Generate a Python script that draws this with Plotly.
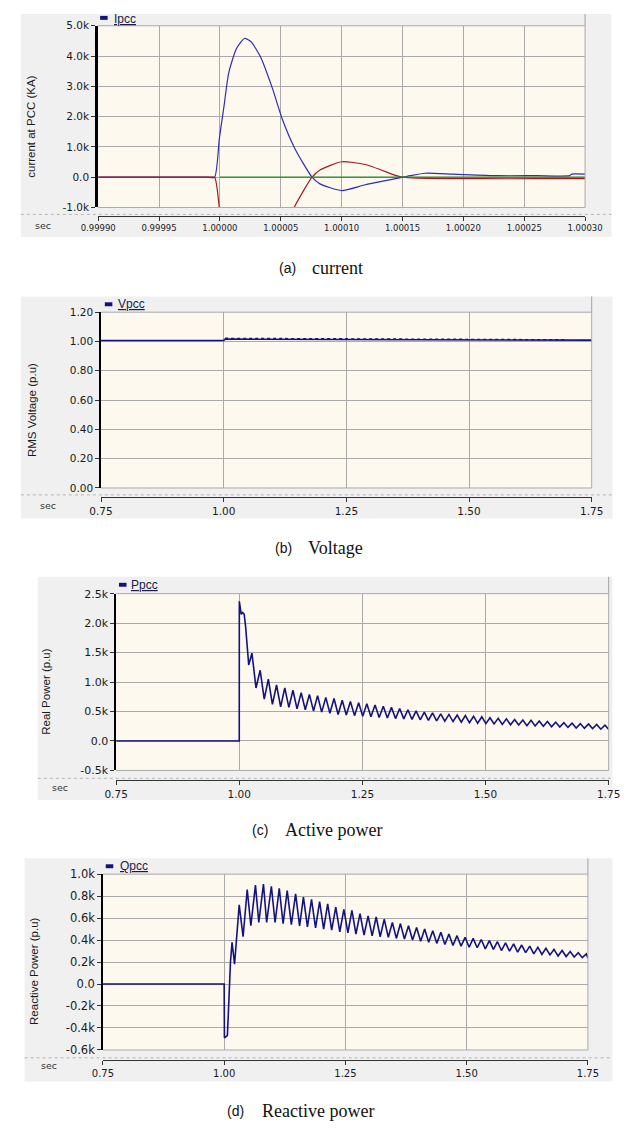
import plotly.graph_objects as go

W, H = 638, 1132


def fx(p):
    return p / W


def fy(p):
    return 1 - p / H


# ---------------- data ----------------
# (a) current at PCC (three phases)
IA_T = [0.99990, 0.99995, 0.99999, 0.9999956, 0.9999995, 1.0000034, 1.0000072, 1.0000137,
        1.0000202, 1.0000254, 1.0000331, 1.0000434, 1.0000512, 1.0000615, 1.0000757, 1.0000822,
        1.0001000, 1.0001194, 1.0001504, 1.0001566, 1.0001685, 1.0001915, 1.0002280, 1.0002600,
        1.0002873, 1.0002890, 1.0003000]
IA_V = [0, 0, 0, 0, 1270, 2360, 3440, 4260,
        4580, 4480, 3990, 2900, 1920, 950, 0, -220,
        -440, -250, 0, 50, 130, 100, 50, 50,
        50, 100, 100]

IB_T = [0.99990, 0.99995, 0.99999, 0.9999956, 0.9999995, 1.0000072, 1.0000137, 1.0000202,
        1.0000254, 1.0000331, 1.0000434, 1.0000512, 1.0000615, 1.0000757, 1.0000822, 1.0001000,
        1.0001194, 1.0001450, 1.0001500, 1.0001633, 1.0002147, 1.0002600, 1.0003000]
IB_V = [0, 0, 0, 0, -1000, -3400, -4250, -4600,
        -4500, -4000, -2950, -1950, -960, 0, 240, 510,
        420, 50, 0, -30, -50, -50, -50]

IC_T = [1.00000, 1.00015, 1.00030]
IC_V = [0, 0, 0]

A_XTICKS = [0.99990, 0.99995, 1.00000, 1.00005, 1.00010, 1.00015, 1.00020, 1.00025, 1.00030]
A_XTEXT = ["0.99990", "0.99995", "1.00000", "1.00005", "1.00010", "1.00015", "1.00020",
           "1.00025", "1.00030"]
A_YTICKS = [-1000, 0, 1000, 2000, 3000, 4000, 5000]
A_YTEXT = ["-1.0k", "0.0", "1.0k", "2.0k", "3.0k", "4.0k", "5.0k"]

# (b) RMS voltage
V_T = [0.75, 1.000, 1.003, 1.25, 1.50, 1.75]
V_V = [1.007, 1.007, 1.016, 1.012, 1.009, 1.009]
VR_T = [1.003, 1.25, 1.50, 1.70]
VR_V = [1.022, 1.019, 1.015, 1.012]

T_TICKS = [0.75, 1.00, 1.25, 1.50, 1.75]
T_TEXT = ["0.75", "1.00", "1.25", "1.50", "1.75"]
B_YTICKS = [0.0, 0.2, 0.4, 0.6, 0.8, 1.0, 1.2]
B_YTEXT = ["0.00", "0.20", "0.40", "0.60", "0.80", "1.00", "1.20"]

# (c) active power
P_START_T = [0.75, 1.0000, 1.0001, 1.0040, 1.0070, 1.0100, 1.0128, 1.0170, 1.0192]
P_START_V = [0, 0, 2370, 2150, 2180, 2150, 1950, 1390, 1290]
P_PEAK_T = [1.0257, 1.0424, 1.0590, 1.0757, 1.0924, 1.1090, 1.1257, 1.1424, 1.1590, 1.1757,
            1.1924, 1.2090, 1.2257, 1.2424, 1.2590, 1.2757, 1.2924, 1.3090, 1.3257, 1.3424,
            1.3590, 1.3757, 1.3924, 1.4090, 1.4257, 1.4424, 1.4590, 1.4757, 1.4924, 1.5090,
            1.5257, 1.5424, 1.5590, 1.5757, 1.5924, 1.6090, 1.6257, 1.6424, 1.6590, 1.6757,
            1.6924, 1.7090, 1.7257, 1.7424]
P_PEAK_V = [1490, 1200, 1050, 950, 900, 860, 820, 790, 770, 740,
            720, 690, 670, 650, 630, 610, 590, 570, 550, 530,
            510, 490, 475, 460, 450, 440, 430, 420, 410, 395,
            385, 375, 365, 355, 350, 340, 330, 320, 310, 300,
            295, 290, 280, 270]
P_TROUGH_T = [1.0340, 1.0507, 1.0673, 1.0840, 1.1007, 1.1173, 1.1340, 1.1507, 1.1673, 1.1840,
              1.2007, 1.2173, 1.2340, 1.2507, 1.2673, 1.2840, 1.3007, 1.3173, 1.3340, 1.3507,
              1.3673, 1.3840, 1.4007, 1.4173, 1.4340, 1.4507, 1.4673, 1.4840, 1.5007, 1.5173,
              1.5340, 1.5507, 1.5673, 1.5840, 1.6007, 1.6173, 1.6340, 1.6507, 1.6673, 1.6840,
              1.7007, 1.7173, 1.7340, 1.7500]
P_TROUGH_V = [900, 710, 620, 580, 570, 545, 530, 510, 490, 470,
              450, 440, 430, 420, 410, 400, 390, 380, 375, 365,
              360, 350, 340, 335, 330, 320, 310, 300, 295, 290,
              280, 275, 270, 260, 255, 250, 240, 235, 230, 220,
              215, 210, 200, 195]

C_YTICKS = [-500, 0, 500, 1000, 1500, 2000, 2500]
C_YTEXT = ["-0.5k", "0.0", "0.5k", "1.0k", "1.5k", "2.0k", "2.5k"]

# (d) reactive power
Q_START_T = [0.75, 1.0000, 1.0005, 1.0066, 1.0085, 1.0110, 1.0130]
Q_START_V = [0, 0, -490, -470, -280, -20, 200]
Q_PEAK_T = [1.0163, 1.0310, 1.0475, 1.0645, 1.0810, 1.0973, 1.1136, 1.1300, 1.1473, 1.1634,
            1.1801, 1.1968, 1.2134, 1.2301, 1.2468, 1.2634, 1.2801, 1.2968, 1.3134, 1.3301,
            1.3468, 1.3634, 1.3801, 1.3968, 1.4134, 1.4301, 1.4468, 1.4634, 1.4801, 1.4968,
            1.5134, 1.5301, 1.5468, 1.5634, 1.5801, 1.5968, 1.6134, 1.6301, 1.6468, 1.6634,
            1.6801, 1.6968, 1.7134, 1.7301, 1.7468]
Q_PEAK_V = [380, 720, 860, 900, 910, 890, 870, 850, 820, 790,
            770, 750, 730, 700, 680, 670, 640, 620, 610, 590,
            560, 550, 530, 515, 500, 485, 470, 455, 440, 425,
            415, 405, 395, 385, 375, 365, 355, 345, 335, 325,
            315, 305, 295, 285, 275]
Q_TROUGH_T = [1.0214, 1.0390, 1.0550, 1.0714, 1.0876, 1.1050, 1.1215, 1.1385, 1.1555, 1.1717,
              1.1884, 1.2051, 1.2217, 1.2384, 1.2551, 1.2717, 1.2884, 1.3051, 1.3217, 1.3384,
              1.3551, 1.3717, 1.3884, 1.4051, 1.4217, 1.4384, 1.4551, 1.4717, 1.4884, 1.5051,
              1.5217, 1.5384, 1.5551, 1.5717, 1.5884, 1.6051, 1.6217, 1.6384, 1.6551, 1.6717,
              1.6884, 1.7051, 1.7217, 1.7384, 1.7500]
Q_TROUGH_V = [180, 430, 530, 560, 560, 560, 550, 540, 530, 520,
              510, 500, 490, 475, 465, 455, 445, 438, 430, 425,
              415, 410, 400, 390, 380, 370, 360, 350, 345, 335,
              330, 320, 315, 305, 300, 290, 285, 275, 270, 265,
              255, 250, 245, 240, 235]

D_YTICKS = [-600, -400, -200, 0, 200, 400, 600, 800, 1000]
D_YTEXT = ["-0.6k", "-0.4k", "-0.2k", "0.0", "0.2k", "0.4k", "0.6k", "0.8k", "1.0k"]


def interleave(st, sv, pt, pv, tt, tv):
    xs, ys = list(st), list(sv)
    for a, b, c, d in zip(pt, pv, tt, tv):
        xs += [a, c]
        ys += [b, d]
    return xs, ys


P_T, P_V = interleave(P_START_T, P_START_V, P_PEAK_T, P_PEAK_V, P_TROUGH_T, P_TROUGH_V)
Q_T, Q_V = interleave(Q_START_T, Q_START_V, Q_PEAK_T, Q_PEAK_V, Q_TROUGH_T, Q_TROUGH_V)

# ---------------- styling ----------------
NAVY = "#13137e"
GRID = "#a9a9a9"
PANEL_BG = "#f0f0f0"
PLOT_BG = "#fdf9ef"
TICK_FONT = "DejaVu Sans"
TXT = "#1a1a1a"

panels = [
    dict(key="", bg=(3, 7, 629, 233), plot=(85, 19, 601, 203), sep=210, axis=211.5,
         mk=(87, 9, 95, 13), lt=(100, 12), label="Ipcc", sec=(27, 221),
         yt=(13, 121), ytitle="current at PCC (KA)",
         xt=(A_XTICKS, A_XTEXT, [0.99990, 1.00030], 8.5),
         yticks=(A_YTICKS, A_YTEXT, [-1000, 5000], 10.5), ylw=3,
         cap=("(a)", 274, "current", 309, 264)),
    dict(key="2", bg=(3, 293, 630, 518), plot=(88, 309, 608, 487), sep=494, axis=496.5,
         mk=(92, 299, 100, 303), lt=(104, 301), label="Vpcc", sec=(32, 505),
         yt=(15, 408), ytitle="RMS Voltage (p.u)",
         xt=(T_TICKS, T_TEXT, [0.75, 1.75], 10.5),
         yticks=(B_YTICKS, B_YTEXT, [0, 1.2], 10.5), ylw=1.5,
         cap=("(b)", 270, "Voltage", 305, 548)),
    dict(key="3", bg=(21, 577, 630, 803), plot=(104, 594, 626, 773), sep=781, axis=783,
         mk=(107, 583, 115, 587), lt=(118, 585), label="Ppcc", sec=(45, 790),
         yt=(30, 693), ytitle="Real Power (p.u)",
         xt=(T_TICKS, T_TEXT, [0.75, 1.75], 10.5),
         yticks=(C_YTICKS, C_YTEXT, [-500, 2500], 11), ylw=1.5,
         cap=("(c)", 246, "Active power", 281, 833)),
    dict(key="4", bg=(7, 862, 630, 1088), plot=(90, 878, 604, 1056), sep=1064, axis=1066,
         mk=(93, 868, 101, 872), lt=(106, 870), label="Qpcc", sec=(33, 1072),
         yt=(17, 976), ytitle="Reactive Power (p.u)",
         xt=(T_TICKS, T_TEXT, [0.75, 1.75], 10),
         yticks=(D_YTICKS, D_YTEXT, [-600, 1000], 11.5), ylw=1.5,
         cap=("(d)", 219, "Reactive power", 256, 1118)),
]

fig = go.Figure()

# traces
fig.add_trace(go.Scatter(x=IA_T, y=IA_V, mode="lines",
                         line=dict(color="#2e2eb4", width=1.2, shape="spline", smoothing=0.6),
                         xaxis="x", yaxis="y", showlegend=False))
fig.add_trace(go.Scatter(x=IB_T, y=IB_V, mode="lines",
                         line=dict(color="#a31c1c", width=1.2, shape="spline", smoothing=0.6),
                         xaxis="x", yaxis="y", showlegend=False))
fig.add_trace(go.Scatter(x=IC_T, y=IC_V, mode="lines", line=dict(color="#218a21", width=1.2),
                         xaxis="x", yaxis="y", showlegend=False))
fig.add_trace(go.Scatter(x=V_T, y=V_V, mode="lines", line=dict(color=NAVY, width=1.6),
                         xaxis="x2", yaxis="y2", showlegend=False))
fig.add_trace(go.Scatter(x=VR_T, y=VR_V, mode="lines",
                         line=dict(color=NAVY, width=1.3, dash="3px,3px"),
                         xaxis="x2", yaxis="y2", showlegend=False))
fig.add_trace(go.Scatter(x=P_T, y=P_V, mode="lines", line=dict(color=NAVY, width=1.6),
                         xaxis="x3", yaxis="y3", showlegend=False))
fig.add_trace(go.Scatter(x=Q_T, y=Q_V, mode="lines", line=dict(color=NAVY, width=1.6),
                         xaxis="x4", yaxis="y4", showlegend=False))

shapes = []
annotations = []
layout_axes = {}

for p in panels:
    k = p["key"]
    bx0, by0, bx1, by1 = p["bg"]
    x0, y0, x1, y1 = p["plot"]
    # gray panel background
    shapes.append(dict(type="rect", xref="paper", yref="paper", layer="below",
                       x0=fx(bx0), x1=fx(bx1), y0=fy(by1), y1=fy(by0),
                       fillcolor=PANEL_BG, line=dict(width=0)))
    # cream plot area
    shapes.append(dict(type="rect", xref="paper", yref="paper", layer="below",
                       x0=fx(x0), x1=fx(x1), y0=fy(y1), y1=fy(y0),
                       fillcolor=PLOT_BG, line=dict(width=0)))
    # separator between plot and time axis
    shapes.append(dict(type="line", xref="paper", yref="paper", layer="above",
                       x0=fx(bx0), x1=fx(bx1), y0=fy(p["sep"]), y1=fy(p["sep"]),
                       line=dict(color="#b4b4b4", width=1, dash="dot")))
    # legend strip right edge
    shapes.append(dict(type="line", xref="paper", yref="paper", layer="above",
                       x0=fx(x1), x1=fx(x1), y0=fy(y0), y1=fy(by0),
                       line=dict(color="#a0a0a0", width=1)))
    # plot border (top, right, bottom)
    for (ax0, ay0, ax1, ay1) in [(x0, y0, x1, y0), (x1, y0, x1, y1), (x0, y1, x1, y1)]:
        shapes.append(dict(type="line", xref="paper", yref="paper", layer="above",
                           x0=fx(ax0), x1=fx(ax1), y0=fy(ay0), y1=fy(ay1),
                           line=dict(color=GRID, width=1)))
    # legend marker
    mx0, my0, mx1, my1 = p["mk"]
    shapes.append(dict(type="rect", xref="paper", yref="paper", layer="above",
                       x0=fx(mx0), x1=fx(mx1), y0=fy(my1), y1=fy(my0),
                       fillcolor=NAVY, line=dict(width=0)))
    annotations.append(dict(xref="paper", yref="paper", x=fx(p["lt"][0]), y=fy(p["lt"][1]),
                            xanchor="left", yanchor="middle", showarrow=False,
                            text="<u>" + p["label"] + "</u>",
                            font=dict(family="Liberation Sans", size=12, color="#1a1a4a")))
    annotations.append(dict(xref="paper", yref="paper", x=fx(p["sec"][0]), y=fy(p["sec"][1]),
                            xanchor="center", yanchor="middle", showarrow=False, text="sec",
                            font=dict(family=TICK_FONT, size=9.5, color="#333333")))
    annotations.append(dict(xref="paper", yref="paper", x=fx(p["yt"][0]), y=fy(p["yt"][1]),
                            xanchor="center", yanchor="middle", showarrow=False,
                            textangle=-90, text=p["ytitle"],
                            font=dict(family="Liberation Sans", size=11.5, color=TXT)))
    c1, c1x, c2, c2x, cy = p["cap"]
    annotations.append(dict(xref="paper", yref="paper", x=fx(c1x), y=fy(cy),
                            xanchor="left", yanchor="middle", showarrow=False, text=c1,
                            font=dict(family="Liberation Sans", size=14, color="#111111")))
    annotations.append(dict(xref="paper", yref="paper", x=fx(c2x), y=fy(cy),
                            xanchor="left", yanchor="middle", showarrow=False, text=c2,
                            font=dict(family="Liberation Serif", size=18, color="#111111")))

    xtv, xtt, xr, xfs = p["xt"]
    ytv, ytt, yr, yfs = p["yticks"]
    layout_axes["xaxis" + k] = dict(
        domain=[fx(x0), fx(x1)], anchor="free", position=fy(p["axis"]),
        range=xr, tickmode="array", tickvals=xtv, ticktext=xtt,
        showgrid=True, gridcolor=GRID, gridwidth=1, zeroline=False,
        showline=True, linecolor="#333333", linewidth=1,
        ticks="outside", ticklen=4, tickwidth=1, tickcolor="#333333",
        tickfont=dict(family=TICK_FONT, size=xfs, color=TXT), fixedrange=True)
    layout_axes["yaxis" + k] = dict(
        domain=[fy(y1), fy(y0)], anchor="x" + k, range=yr,
        tickmode="array", tickvals=ytv, ticktext=ytt,
        showgrid=True, gridcolor=GRID, gridwidth=1, zeroline=False,
        showline=True, linecolor="#000000", linewidth=p["ylw"],
        ticks="outside", ticklen=4, tickwidth=1, tickcolor="#333333",
        tickfont=dict(family=TICK_FONT, size=yfs, color=TXT), fixedrange=True)

fig.update_layout(
    width=W, height=H, autosize=False,
    margin=dict(l=0, r=0, t=0, b=0, pad=0),
    paper_bgcolor="#ffffff", plot_bgcolor=PLOT_BG,
    showlegend=False,
    shapes=shapes, annotations=annotations,
    **layout_axes,
)

fig.write_html("out.html")
